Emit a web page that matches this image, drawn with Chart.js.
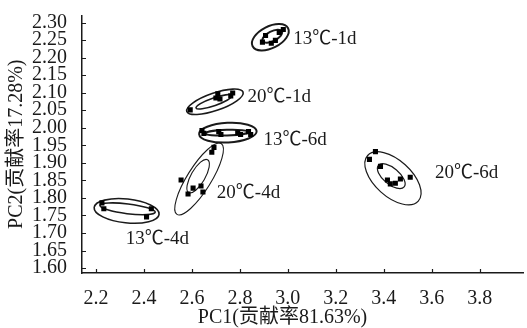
<!DOCTYPE html>
<html>
<head>
<meta charset="utf-8">
<script src="https://cdn.jsdelivr.net/npm/chart.js@4"></script>
<style>
  body { margin: 0; background: #fff; }
</style>
</head>
<body>
<canvas id="pca" width="527" height="328"></canvas>
<script>
// sample groups (storage temperature - days)
const groupNames = ["13℃-1d", "20℃-1d", "13℃-6d", "20℃-4d", "13℃-4d", "20℃-6d"];

// PC1 / PC2 scores per group
const pc1Values = [
  [2.981, 2.964, 2.907, 2.894, 2.931, 2.948],
  [2.593, 2.700, 2.708, 2.717, 2.762, 2.770],
  [2.642, 2.650, 2.712, 2.721, 2.791, 2.803, 2.836, 2.845],
  [2.692, 2.683, 2.555, 2.605, 2.584, 2.638, 2.646],
  [2.225, 2.233, 2.431, 2.411],
  [3.365, 3.340, 3.386, 3.415, 3.427, 3.448, 3.469, 3.510]
];
const pc2Values = [
  [2.280, 2.272, 2.263, 2.244, 2.241, 2.249],
  [2.051, 2.085, 2.097, 2.082, 2.091, 2.099],
  [1.992, 1.984, 1.989, 1.981, 1.986, 1.981, 1.989, 1.981],
  [1.944, 1.930, 1.851, 1.828, 1.811, 1.834, 1.817],
  [1.786, 1.769, 1.769, 1.746],
  [1.932, 1.910, 1.890, 1.851, 1.840, 1.842, 1.854, 1.859]
];

// confidence ellipses: [center pc1, center pc2, semi-axis pc1, semi-axis pc2, tilt deg]
const outerEllipses = [
  [2.927, 2.258, 0.083, 0.031, 27],
  [2.696, 2.074, 0.124, 0.025, 19],
  [2.750, 1.986, 0.120, 0.028, 3],
  [2.630, 1.854, 0.174, 0.034, 58],
  [2.328, 1.763, 0.136, 0.034, -6],
  [3.438, 1.856, 0.142, 0.052, -42]
];
const innerEllipses = [
  [2.935, 2.261, 0.045, 0.014, 27],
  [2.692, 2.074, 0.079, 0.011, 19],
  [2.746, 1.986, 0.091, 0.008, 2],
  [2.626, 1.862, 0.079, 0.020, 60],
  [2.332, 1.769, 0.116, 0.014, -7],
  [3.431, 1.862, 0.070, 0.023, -40]
];

// where each group name sits
const labelPc1 = [3.022, 2.832, 2.898, 2.704, 2.324, 3.613];
const labelPc2 = [2.254, 2.088, 1.966, 1.814, 1.684, 1.871];

const xTicks = [2.2, 2.4, 2.6, 2.8, 3.0, 3.2, 3.4, 3.6, 3.8];
const yTicks = [1.60, 1.65, 1.70, 1.75, 1.80, 1.85, 1.90, 1.95, 2.00, 2.05, 2.10, 2.15, 2.20, 2.25, 2.30];

const serif = "'Liberation Serif', 'Times New Roman', 'Noto Sans CJK SC', serif";
const ink = "#1a1a1a";

// thicker rings for the 13℃ groups, like the original
const ringWidth = [2, 1.6, 2, 1.1, 1.6, 1.2];

const ellipsePlugin = {
  id: "ellipses",
  beforeDatasetsDraw(chart) {
    const { ctx, scales: { x, y } } = chart;
    const sx = Math.abs(x.getPixelForValue(1) - x.getPixelForValue(0));
    const sy = Math.abs(y.getPixelForValue(1) - y.getPixelForValue(0));
    ctx.save();
    ctx.strokeStyle = ink;
    [outerEllipses, innerEllipses].forEach((list) => {
      list.forEach((e, i) => {
        ctx.lineWidth = ringWidth[i];
        ctx.beginPath();
        ctx.ellipse(x.getPixelForValue(e[0]), y.getPixelForValue(e[1]),
          e[2] * sx, e[3] * sy, -e[4] * Math.PI / 180, 0, Math.PI * 2);
        ctx.stroke();
      });
    });
    ctx.restore();
  },
  afterDraw(chart) {
    const { ctx, scales: { x, y } } = chart;
    ctx.save();
    // inward tick marks
    ctx.strokeStyle = ink;
    ctx.lineWidth = 1.2;
    ctx.beginPath();
    x.ticks.forEach((t) => {
      const px = Math.round(x.getPixelForValue(t.value)) + 0.5;
      ctx.moveTo(px, x.top);
      ctx.lineTo(px, x.top - 4);
    });
    y.ticks.forEach((t) => {
      const py = Math.round(y.getPixelForValue(t.value)) + 0.5;
      ctx.moveTo(y.right, py);
      ctx.lineTo(y.right + 4, py);
    });
    ctx.stroke();
    // group names
    ctx.fillStyle = ink;
    ctx.font = "19px " + serif;
    ctx.textAlign = "left";
    ctx.textBaseline = "middle";
    groupNames.forEach((name, i) => {
      ctx.fillText(name, x.getPixelForValue(labelPc1[i]), y.getPixelForValue(labelPc2[i]));
    });
    ctx.restore();
  }
};

const datasets = groupNames.map((name, i) => ({
  label: name,
  data: pc1Values[i].map((v, j) => ({ x: v, y: pc2Values[i][j] })),
  pointStyle: "rect",
  pointRadius: 3.6,
  pointBorderWidth: 0,
  backgroundColor: "#000",
  borderColor: "#000"
}));

new Chart(document.getElementById("pca"), {
  type: "scatter",
  data: { datasets },
  options: {
    responsive: false,
    animation: false,
    layout: { padding: { top: 13, right: 0, left: 0, bottom: 0 } },
    plugins: { legend: { display: false }, tooltip: { enabled: false } },
    scales: {
      x: {
        min: 2.142,
        max: 3.98,
        afterBuildTicks: (s) => { s.ticks = xTicks.map((v) => ({ value: v })); },
        afterFit: (s) => { s.height = 55; },
        grid: { display: false },
        border: { display: true, color: ink, width: 1.5 },
        ticks: {
          autoSkip: false,
          maxRotation: 0,
          padding: 6,
          color: ink,
          font: { family: serif, size: 20 },
          callback: (v) => Number(v).toFixed(1)
        },
        title: {
          display: true,
          text: "PC1(贡献率81.63%)        ",
          color: ink,
          font: { family: serif, size: 20, lineHeight: 1 },
          padding: { top: 0, bottom: 0 }
        }
      },
      y: {
        min: 1.586,
        max: 2.32,
        afterBuildTicks: (s) => { s.ticks = yTicks.map((v) => ({ value: v })); },
        afterFit: (s) => { s.width = 82; },
        grid: { display: false },
        border: { display: true, color: ink, width: 1.5 },
        ticks: {
          autoSkip: false,
          padding: 7,
          color: ink,
          font: { family: serif, size: 20, lineHeight: 0.85 },
          callback: (v) => Number(v).toFixed(2)
        },
        title: {
          display: true,
          text: "PC2(贡献率17.28%)",
          color: ink,
          font: { family: serif, size: 20, lineHeight: 1 },
          padding: { top: 7, bottom: 0 }
        }
      }
    }
  },
  plugins: [ellipsePlugin]
});
</script>
</body>
</html>
